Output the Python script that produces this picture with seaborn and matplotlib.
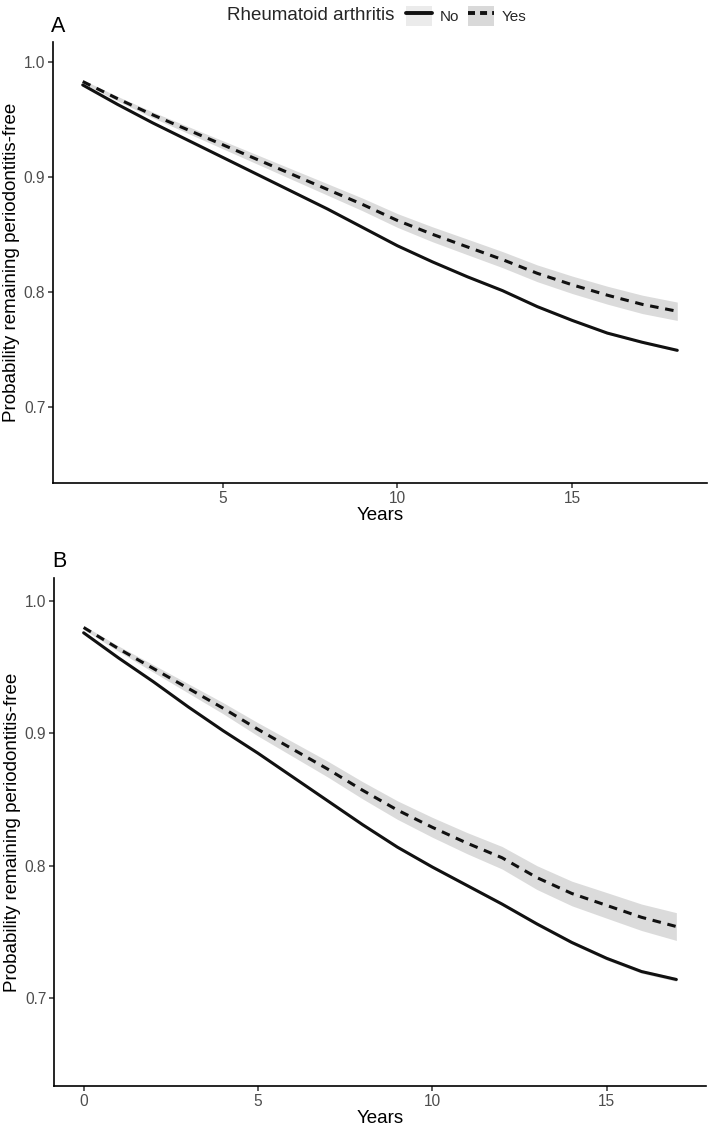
import numpy as np
import pandas as pd
import matplotlib
matplotlib.use("Agg")
import matplotlib.pyplot as plt
import seaborn as sns
from matplotlib.patches import Patch
from matplotlib.lines import Line2D
from matplotlib.legend_handler import HandlerTuple

# Panel A: years 1-18
years_a = list(range(1, 19))
no_a = [0.980, 0.963, 0.947, 0.932, 0.917, 0.902, 0.887, 0.872, 0.856,
        0.840, 0.826, 0.813, 0.801, 0.787, 0.775, 0.764, 0.756, 0.749]
yes_a = [0.983, 0.968, 0.954, 0.941, 0.928, 0.915, 0.902, 0.889, 0.876,
         0.862, 0.850, 0.839, 0.828, 0.816, 0.806, 0.797, 0.789, 0.783]
yes_a_ci = [0.0015, 0.002, 0.0025, 0.003, 0.0035, 0.004, 0.0045, 0.005, 0.0055,
            0.006, 0.0065, 0.0068, 0.007, 0.0073, 0.0076, 0.0078, 0.008, 0.008]
no_a_ci = [0.0004, 0.0004, 0.0005, 0.0005, 0.0005, 0.0006, 0.0006, 0.0006, 0.0007,
           0.0007, 0.0007, 0.0008, 0.0008, 0.0008, 0.0009, 0.0009, 0.0009, 0.001]

# Panel B: years 0-17
years_b = list(range(0, 18))
no_b = [0.976, 0.957, 0.939, 0.920, 0.902, 0.885, 0.867, 0.849, 0.831,
        0.814, 0.799, 0.785, 0.771, 0.756, 0.742, 0.730, 0.720, 0.714]
yes_b = [0.980, 0.964, 0.949, 0.934, 0.919, 0.903, 0.888, 0.873, 0.857,
         0.842, 0.829, 0.817, 0.806, 0.791, 0.779, 0.770, 0.761, 0.754]
yes_b_ci = [0.0015, 0.002, 0.0028, 0.0035, 0.0042, 0.005, 0.0055, 0.006, 0.0065,
            0.007, 0.0075, 0.008, 0.0085, 0.009, 0.0093, 0.0097, 0.010, 0.0105]
no_b_ci = [0.0005, 0.0006, 0.0006, 0.0007, 0.0007, 0.0008, 0.0008, 0.0009, 0.0009,
           0.001, 0.001, 0.0011, 0.0011, 0.0012, 0.0012, 0.0013, 0.0013, 0.0014]

groups = ["No", "Yes"]
y_ticks = [0.7, 0.8, 0.9, 1.0]

sns.set_theme(style="ticks")
plt.rcParams["font.family"] = ["Liberation Sans", "DejaVu Sans"]

fig = plt.figure(figsize=(7.09, 11.3), dpi=100)
ax_a = fig.add_axes([53 / 709, 1 - 483 / 1130, 654 / 709, 441 / 1130])
ax_b = fig.add_axes([54 / 709, 1 - 1086 / 1130, 652 / 709, 508 / 1130])

band_color = "#999999"
dash = (2.8, 2.2)


def draw_panel(ax, years, no, yes, no_ci, yes_ci, xticks, letter):
    df = pd.DataFrame({
        "Years": years + years,
        "prob": no + yes,
        "ra": ["No"] * len(years) + ["Yes"] * len(years),
    })
    lo_no = np.array(no) - np.array(no_ci)
    hi_no = np.array(no) + np.array(no_ci)
    lo_yes = np.array(yes) - np.array(yes_ci)
    hi_yes = np.array(yes) + np.array(yes_ci)
    ax.fill_between(years, lo_no, hi_no, color=band_color, alpha=0.35, lw=0)
    ax.fill_between(years, lo_yes, hi_yes, color=band_color, alpha=0.35, lw=0)
    sns.lineplot(data=df, x="Years", y="prob", style="ra", color="#111111",
                 dashes={"No": "", "Yes": dash}, linewidth=2.2,
                 legend=False, ax=ax)
    span = years[-1] - years[0]
    ax.set_xlim(years[0] - 0.05 * span, years[-1] + 0.05 * span)
    ax.set_ylim(0.6335, 1.0174)
    ax.set_xticks(xticks)
    ax.set_yticks(y_ticks)
    ax.set_yticklabels([f"{v:.1f}" for v in y_ticks])
    ax.set_xlabel("Years", fontsize=13.5, color="black", labelpad=1)
    ax.set_ylabel("Probability remaining periodontitis-free", fontsize=13.5,
                  color="black", labelpad=3)
    ax.tick_params(axis="both", labelsize=11.2, labelcolor="#4D4D4D",
                   length=3.5, width=1.1, color="#333333", pad=2)
    for side in ["top", "right"]:
        ax.spines[side].set_visible(False)
    for side in ["left", "bottom"]:
        ax.spines[side].set_linewidth(1.2)
        ax.spines[side].set_color("black")
    ax.grid(False)
    ax.text(-0.003, 1.012, letter, transform=ax.transAxes, fontsize=15.5,
            ha="left", va="bottom", color="black")


draw_panel(ax_a, years_a, no_a, yes_a, no_a_ci, yes_a_ci, [5, 10, 15], "A")
draw_panel(ax_b, years_b, no_b, yes_b, no_b_ci, yes_b_ci, [0, 5, 10, 15], "B")

# legend across the top
fig.text(227 / 709, 1 - 16 / 1130, "Rheumatoid arthritis", fontsize=13.5,
         ha="left", va="center")
handles = [
    (Patch(facecolor="#EBEBEB", edgecolor="none"),
     Line2D([], [], color="#111111", lw=2.8)),
    (Patch(facecolor="#D9D9D9", edgecolor="none"),
     Line2D([], [], color="#111111", lw=2.8, linestyle=(0, (1.8, 1.3)))),
]
fig.legend(handles, groups, loc="center left",
           bbox_to_anchor=(406 / 709, 1 - 16 / 1130), ncol=2, frameon=False,
           fontsize=11, handlelength=1.7, handleheight=1.7,
           handletextpad=0.5, columnspacing=0.6, borderpad=0, borderaxespad=0,
           handler_map={tuple: HandlerTuple(ndivide=1, pad=0)})

fig.savefig("out.png", dpi=100)
